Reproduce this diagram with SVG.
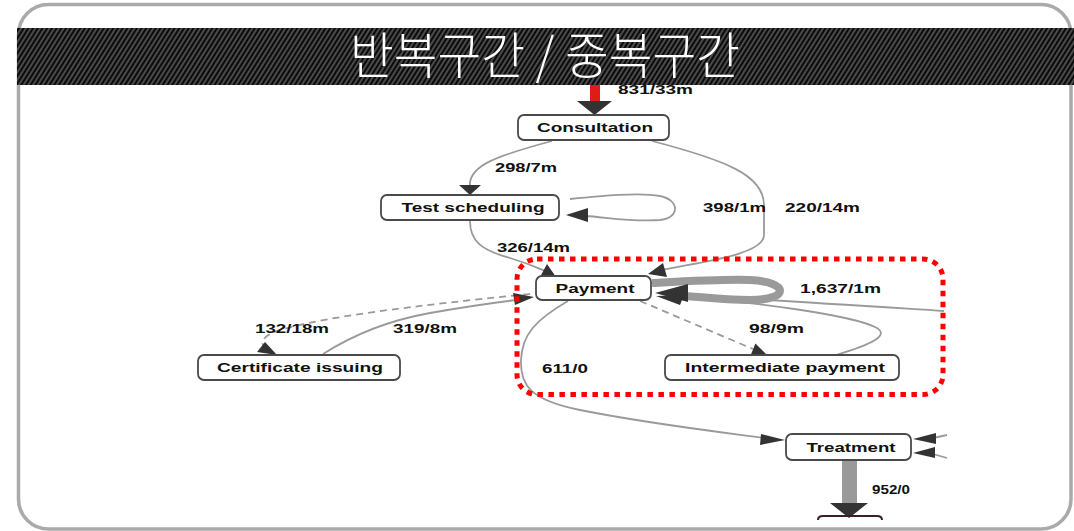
<svg xmlns="http://www.w3.org/2000/svg" width="1074" height="531" viewBox="0 0 1074 531">
<defs>
<pattern id="stripes" width="4" height="4" patternUnits="userSpaceOnUse" patternTransform="rotate(32)">
<rect width="4" height="4" fill="#0b0b0b"/>
<rect width="2" height="4" fill="#4a4a4a"/>
</pattern>
<style>
.node rect{fill:#fff;stroke:#4a4a4a;stroke-width:1.8}
.node text{font-family:"Liberation Sans",Arial,sans-serif;font-weight:bold;font-size:13px;fill:#111;text-anchor:middle}
.lbl{font-family:"Liberation Sans",Arial,sans-serif;font-weight:bold;font-size:12.5px;fill:#111}
.e{fill:none;stroke:#9a9a9a;stroke-width:1.8}
.d{stroke-dasharray:7 5}
.ah{fill:#333}
</style>
</defs>
<rect x="18.5" y="4.5" width="1052.5" height="524.5" rx="30" fill="#fff" stroke="#aaa" stroke-width="3.5"/>

<g id="connectors">
<line x1="595" y1="80" x2="595" y2="103" stroke="#e01b1b" stroke-width="10"/>
<polygon class="ah" points="577,101 612,101 594.5,115"/>
<text class="lbl" x="618" y="94" textLength="75" lengthAdjust="spacingAndGlyphs">831/33m</text>

<path class="e" d="M552,141 C500,155 468,165 470,186"/>
<polygon class="ah" points="459,185 481,185 470,195"/>
<text class="lbl" x="495" y="172" textLength="62" lengthAdjust="spacingAndGlyphs">298/7m</text>

<path class="e" d="M652,141 C725,160 764,175 764,205 L764,235 C764,255 700,262 662,270"/>
<polygon class="ah" points="648,274 667,277 663,263"/>
<text class="lbl" x="703" y="212" textLength="63" lengthAdjust="spacingAndGlyphs">398/1m</text>
<text class="lbl" x="785" y="212" textLength="75" lengthAdjust="spacingAndGlyphs">220/14m</text>

<path class="e" d="M570,199 C600,196 640,192 660,196 C680,200 680,218 660,220 C630,222 605,217 585,216"/>
<polygon class="ah" points="566,215 588,208 588,222"/>

<path class="e" d="M470,221 C470,240 480,250 510,258 C530,264 538,268 545,271"/>
<polygon class="ah" points="556,277 540,277 547,264"/>
<text class="lbl" x="497" y="252" textLength="73" lengthAdjust="spacingAndGlyphs">326/14m</text>

<path class="e" d="M944,311 C850,305 760,299 690,296"/>
<path class="e" d="M836,355 C870,345 892,335 875,327 C850,315 760,303 690,297"/>
<path fill="none" stroke="#9a9a9a" stroke-width="8" d="M652,283 C690,281 725,279 750,280 C790,282 790,300 750,300 C725,300 700,297 686,296"/>
<polygon class="ah" points="655,293 688,284 688,302"/>
<polygon class="ah" points="656,296 684,295 680,305"/>
<text class="lbl" x="800" y="293" textLength="81" lengthAdjust="spacingAndGlyphs">1,637/1m</text>

<path class="e d" d="M640,301 L753,349"/>
<polygon class="ah" points="767,355 750.6,355.4 755.4,343.4"/>
<text class="lbl" x="749" y="333" textLength="55" lengthAdjust="spacingAndGlyphs">98/9m</text>

<path class="e" d="M568,301 C535,320 522,335 521,360 C520,385 530,400 580,410 C650,424 720,432 765,438"/>
<polygon class="ah" points="785,440 761,434 760,445"/>
<text class="lbl" x="542" y="373" textLength="46" lengthAdjust="spacingAndGlyphs">611/0</text>

<path class="e d" d="M530,294 C420,305 310,318 272,333 C262,338 261,343 264,347"/>
<polygon class="ah" points="277,355 257,352 265,342"/>
<text class="lbl" x="255" y="333" textLength="74" lengthAdjust="spacingAndGlyphs">132/18m</text>

<path class="e" d="M323,354 C345,340 380,322 430,313 C470,306 500,302 516,300"/>
<polygon class="ah" points="534,297 513,293 515,305"/>
<text class="lbl" x="393" y="333" textLength="64" lengthAdjust="spacingAndGlyphs">319/8m</text>

<path class="e" d="M947,435 L933,438"/>
<polygon class="ah" points="913,439 936,433 936,444"/>
<path class="e" d="M947,458 L933,454"/>
<polygon class="ah" points="913,453 935,447 935,458"/>

<rect x="842" y="460" width="15" height="44" fill="#999"/>
<polygon class="ah" points="830,503 868,503 849,518"/>
<text class="lbl" x="872" y="494" textLength="38" lengthAdjust="spacingAndGlyphs">952/0</text>
</g>

<g id="n-consultation" class="node"><rect x="518" y="115" width="151" height="25" rx="6"/><text x="595" y="132" textLength="116" lengthAdjust="spacingAndGlyphs">Consultation</text></g>
<g id="n-test" class="node"><rect x="381" y="195" width="178" height="25" rx="6"/><text x="473" y="212" textLength="143" lengthAdjust="spacingAndGlyphs">Test scheduling</text></g>
<g id="n-payment" class="node"><rect x="536" y="276" width="115" height="24" rx="6"/><text x="595" y="293" textLength="79" lengthAdjust="spacingAndGlyphs">Payment</text></g>
<g id="n-certificate" class="node"><rect x="198" y="355" width="202" height="25" rx="6"/><text x="300" y="372" textLength="166" lengthAdjust="spacingAndGlyphs">Certificate issuing</text></g>
<g id="n-intermediate" class="node"><rect x="665" y="355" width="234" height="25" rx="6"/><text x="785" y="372" textLength="200" lengthAdjust="spacingAndGlyphs">Intermediate payment</text></g>
<g id="n-treatment" class="node"><rect x="786" y="434" width="125" height="26" rx="6"/><text x="851" y="452" textLength="89" lengthAdjust="spacingAndGlyphs">Treatment</text></g>
<g id="n-bottom"><path d="M818,520 Q818,516 823,516 L877,516 Q882,516 882,520" fill="none" stroke="#3a2222" stroke-width="2"/></g>

<g id="highlight"><rect x="517" y="259" width="426" height="135.5" rx="20" fill="none" stroke="#ff0000" stroke-width="5" stroke-dasharray="5.5 5.5"/></g>

<g id="header">
<rect x="17" y="28" width="1057" height="57" fill="url(#stripes)"/>
<text x="545" y="74" fill="#fff" font-family="'Noto Sans CJK KR','Noto Sans CJK SC',sans-serif" font-weight="300" font-size="50" text-anchor="middle" textLength="390" lengthAdjust="spacingAndGlyphs">반복구간 / 중복구간</text>
</g>
</svg>
